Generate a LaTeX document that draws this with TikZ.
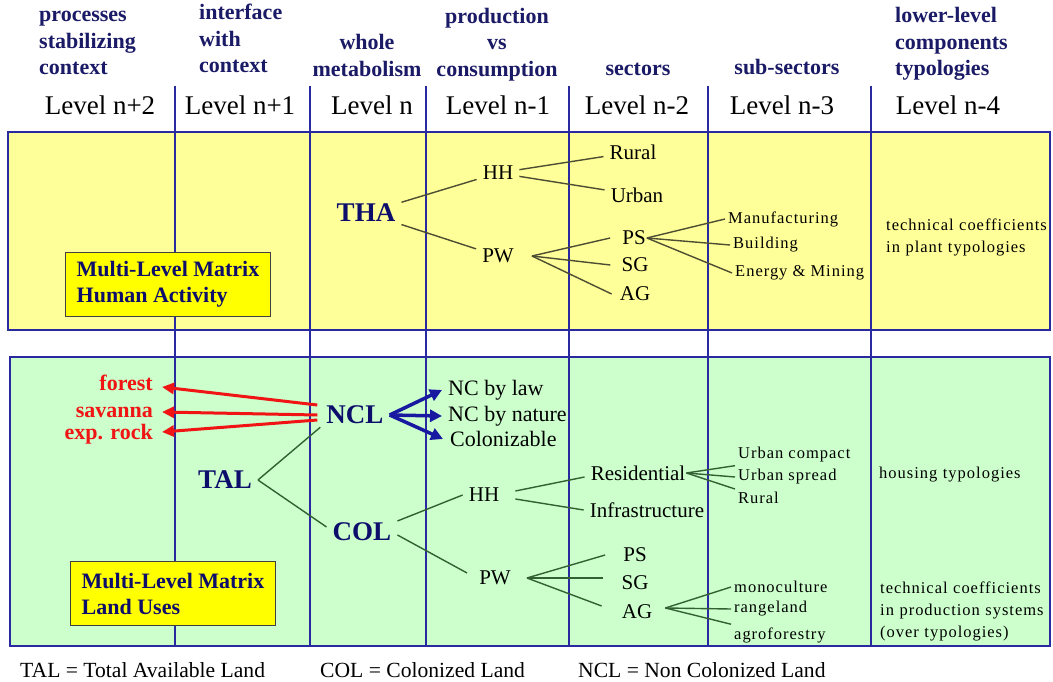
\documentclass[tikz,border=0pt]{standalone}
\usepackage{fontspec}
\setmainfont{Liberation Serif}
\newfontfamily\spacedfont[LetterSpace=6]{Liberation Serif}
\usetikzlibrary{arrows.meta}
\definecolor{navy}{HTML}{1A1A66}
\definecolor{deepnavy}{HTML}{0D0D6B}
\definecolor{vline}{HTML}{2A2AA0}
\definecolor{paleyellow}{HTML}{FFFF99}
\definecolor{palegreen}{HTML}{CCFFCC}
\definecolor{boxyellow}{HTML}{FFFF00}
\definecolor{edgeY}{HTML}{4D4D33}
\definecolor{edgeG}{HTML}{336033}
\definecolor{redarrow}{HTML}{F01414}
\definecolor{bluearrow}{HTML}{1818A0}
\tikzset{
  hdrnode/.style={inner sep=0pt, text=navy, font=\bfseries\fontsize{22}{26.5}\selectfont, text width=150pt},
  lvlnode/.style={inner sep=0pt, font=\fontsize{27}{30}\selectfont, anchor=base},
  bignode/.style={inner xsep=6pt, inner ysep=3pt, text=deepnavy, font=\bfseries\fontsize{27}{30}\selectfont},
  tnode/.style={inner xsep=6pt, inner ysep=3pt, font=\fontsize{21}{24}\selectfont},
  ncnode/.style={inner sep=3pt, anchor=west, font=\fontsize{22}{24}\selectfont},
  smnode/.style={inner sep=3pt, anchor=west, font=\spacedfont\fontsize{16.5}{22}\selectfont},
  notenode/.style={inner sep=0pt, anchor=base west, align=left, text width=175pt, font=\spacedfont\fontsize{16.5}{22}\selectfont},
  rednode/.style={inner sep=3pt, anchor=east, text=redarrow, font=\bfseries\fontsize{22}{24}\selectfont},
  footnode/.style={inner sep=0pt, anchor=base west, font=\fontsize{21.6}{24}\selectfont},
  mlbox/.style={draw=black!75, line width=1pt, fill=boxyellow, text=deepnavy, align=left, font=\bfseries\fontsize{22}{26}\selectfont, minimum width=205pt, minimum height=64pt, anchor=north west, inner sep=0pt},
  panel/.style={draw=vline, line width=1.2pt},
  colline/.style={draw=vline, line width=1.2pt},
  ey/.style={draw=edgeY, line width=1.4pt},
  eg/.style={draw=edgeG, line width=1.4pt},
  redarr/.style={draw=redarrow, line width=3pt, -{Triangle[length=12pt,width=11pt]}},
  bluarr/.style={draw=bluearrow, line width=3.5pt, -{Triangle[length=12pt,width=12pt]}},
}
\begin{document}
\begin{tikzpicture}[x=1pt,y=-1pt]
\useasboundingbox[fill=white] (0,0) rectangle (1053,682);
% panels
\draw[panel, fill=paleyellow] (8,132) rectangle (1050,330);
\draw[panel, fill=palegreen] (10,357) rectangle (1050,646);
\foreach \x in {175,310,426,569,708,871} \draw[colline] (\x,86) -- (\x,646);
% headers
\node[hdrnode, anchor=base west, align=left] (h1) at (39,22) {processes\\stabilizing\\context};
\node[hdrnode, anchor=base west, align=left] (h2) at (199,20) {interface\\with\\context};
\node[hdrnode, anchor=base, align=center] (h3) at (367,50) {whole\\metabolism};
\node[hdrnode, anchor=base, align=center] (h4) at (497,23.5) {production\\vs\\consumption};
\node[hdrnode, anchor=base, align=center] (h5) at (638,76) {sectors};
\node[hdrnode, anchor=base, align=center] (h6) at (787,75) {sub-sectors};
\node[hdrnode, anchor=base west, align=left] (h7) at (895,23) {lower-level\\components\\typologies};
% levels
\node[lvlnode] (L1) at (100,115) {Level n+2};
\node[lvlnode] (L2) at (240,115) {Level n+1};
\node[lvlnode] (L3) at (372,115) {Level n};
\node[lvlnode] (L4) at (498,115) {Level n-1};
\node[lvlnode] (L5) at (637,115) {Level n-2};
\node[lvlnode] (L6) at (782,115) {Level n-3};
\node[lvlnode] (L7) at (948,115) {Level n-4};
% matrix boxes
\node[mlbox] (mlha) at (65,252) {Multi-Level Matrix\\Human Activity};
\node[mlbox] (mllu) at (70,561) {Multi-Level Matrix\\Land Uses};
% ---- human activity tree
\node[bignode] (THA) at (366,213) {THA};
\node[tnode] (HHa) at (498,173) {HH};
\node[tnode] (PWa) at (498,256) {PW};
\node[tnode] (RUa) at (633,152) {Rural};
\node[tnode] (URa) at (637,195) {Urban};
\node[tnode] (PSa) at (634,238) {PS};
\node[tnode] (SGa) at (635,265) {SG};
\node[tnode] (AGa) at (635,294) {AG};
\node[smnode] (MAN) at (725,219) {Manufacturing};
\node[smnode] (BLD) at (730,245) {Building};
\node[smnode] (ENM) at (732,273) {Energy \& Mining};
\node[notenode] (TC1) at (886,230) {technical coefficients\\in plant typologies};
\draw[ey] (THA) -- (HHa);
\draw[ey] (THA) -- (PWa);
\draw[ey] (HHa) -- (RUa);
\draw[ey] (HHa) -- (URa);
\draw[ey] ([xshift=12pt]PWa.east) -- ([xshift=-6pt]PSa.west);
\draw[ey] ([xshift=12pt]PWa.east) -- ([xshift=-5pt]SGa.west);
\draw[ey] ([xshift=12pt]PWa.east) -- ([xshift=-2pt]AGa.west);
\draw[ey] ([xshift=-5pt]PSa.east) -- (MAN.west);
\draw[ey] ([xshift=-5pt]PSa.east) -- (BLD.west);
\draw[ey] ([xshift=-5pt]PSa.east) -- (ENM.west);
% ---- land use tree
\node[bignode] (NCL) at (355,415) {NCL};
\node[bignode] (TAL) at (225,480) {TAL};
\node[bignode] (COL) at (362,532) {COL};
\node[ncnode] (NCa) at (445,390) {NC by law};
\node[ncnode] (NCb) at (445,416) {NC by nature};
\node[ncnode] (NCc) at (447,439) {Colonizable};
\node[rednode] (FOR) at (156,383) {forest};
\node[rednode] (SAV) at (156,412) {savanna};
\node[rednode] (ROC) at (156,434) {exp. rock};
\draw[redarr] ([xshift=-3pt,yshift=10pt]NCL.west) -- ([xshift=6pt,yshift=-4pt]FOR.east);
\draw[redarr] ([xshift=-3pt]NCL.west) -- ([xshift=6pt]SAV.east);
\draw[redarr] ([xshift=-3pt,yshift=-5pt]NCL.west) -- ([xshift=6pt,yshift=2pt]ROC.east);
\draw[bluarr] (NCL.east) -- ([xshift=-3pt]NCa.west);
\draw[bluarr] (NCL.east) -- ([xshift=-3pt]NCb.west);
\draw[bluarr] (NCL.east) -- ([xshift=-4pt]NCc.west);
\node[tnode] (HHb) at (484,495) {HH};
\node[tnode] (PWb) at (495,578) {PW};
\node[tnode] (RES) at (638,473) {Residential};
\node[tnode] (INF) at (647,510) {Infrastructure};
\node[tnode] (PSb) at (635,555) {PS};
\node[tnode] (SGb) at (635,583) {SG};
\node[tnode] (AGb) at (637,612) {AG};
\node[smnode] (UC) at (735,455) {Urban compact};
\node[smnode] (US) at (735,477) {Urban spread};
\node[smnode] (RR) at (735,498) {Rural};
\node[notenode] (HT) at (879,478) {housing typologies};
\node[smnode] (MONO) at (731,587) {monoculture};
\node[smnode] (RANG) at (731,609) {rangeland};
\node[smnode] (AGRO) at (731,635) {agroforestry};
\node[notenode] (TC2) at (880,593) {technical coefficients\\in production systems\\(over typologies)};
\draw[eg] (TAL.east) -- (NCL.south west);
\draw[eg] (TAL.east) -- ([yshift=5pt]COL.west);
\draw[eg] ([yshift=11pt]COL.east) -- (HHb.west);
\draw[eg] ([yshift=-3pt]COL.east) -- ([xshift=-6pt,yshift=5pt]PWb.west);
\draw[eg] ([xshift=10pt,yshift=4pt]HHb.east) -- ([yshift=-4pt]RES.west);
\draw[eg] ([xshift=10pt,yshift=-4pt]HHb.east) -- (INF.west);
\draw[eg] ([xshift=10pt]PWb.east) -- ([xshift=-12pt]PSb.west);
\draw[eg] ([xshift=10pt]PWb.east) -- ([xshift=-12pt,yshift=5pt]SGb.west);
\draw[eg] ([xshift=10pt]PWb.east) -- ([xshift=-14pt,yshift=6pt]AGb.west);
\draw[eg] ([xshift=-5pt]RES.east) -- (UC.south west);
\draw[eg] ([xshift=-5pt]RES.east) -- (US.west);
\draw[eg] ([xshift=-5pt]RES.east) -- (RR.north west);
\draw[eg] ([xshift=7pt,yshift=4pt]AGb.east) -- (MONO.west);
\draw[eg] ([xshift=7pt,yshift=4pt]AGb.east) -- (RANG.west);
\draw[eg] ([xshift=7pt,yshift=4pt]AGb.east) -- (AGRO.north west);
% footer
\node[footnode] (F1) at (20,677) {TAL = Total Available Land};
\node[footnode] (F2) at (320,677) {COL = Colonized Land};
\node[footnode] (F3) at (578,677) {NCL = Non Colonized Land};
\end{tikzpicture}
\end{document}
